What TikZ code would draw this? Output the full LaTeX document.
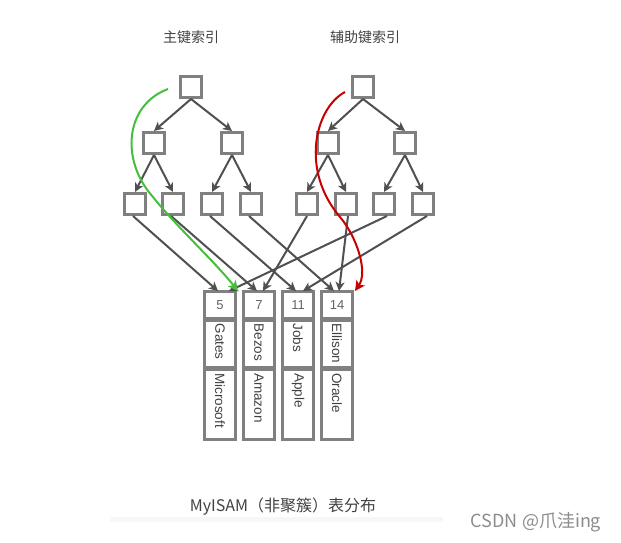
\documentclass[tikz,border=0pt]{standalone}
\usepackage{fontspec}
\setmainfont{Liberation Sans}
\newfontfamily\cjk{Noto Sans CJK SC}
\usetikzlibrary{arrows.meta,positioning}
\definecolor{boxgray}{RGB}{128,128,128}
\definecolor{arrgray}{RGB}{80,80,80}
\definecolor{txtgray}{RGB}{65,65,65}
\definecolor{numgray}{RGB}{100,100,100}
\definecolor{greenpath}{RGB}{70,190,60}
\definecolor{redpath}{RGB}{200,0,0}
\tikzset{
  treebox/.style={draw=boxgray, line width=3pt, fill=white, minimum width=21pt, minimum height=21pt, inner sep=0pt},
  cellbox/.style={draw=boxgray, line width=2.5pt, fill=white, minimum width=31pt, inner sep=0pt},
  numtext/.style={font=\fontsize{13}{14}\selectfont, text=numgray},
  rottext/.style={font=\fontsize{13.5}{14}\selectfont, text=txtgray, rotate=-90, anchor=west, inner sep=0pt},
  tarrow/.style={draw=arrgray, line width=2pt, -{Stealth[length=9pt,width=9pt,inset=2.5pt]}},
  title/.style={font=\cjk\fontsize{14}{15}\selectfont, text=txtgray},
}
\begin{document}
\begin{tikzpicture}[x=1pt,y=-1pt]
\path[use as bounding box] (0,0) rectangle (621,543);
% faint band
\fill[black!3] (110,517) rectangle (443,522);
% titles
\node[title] (t1) at (191,37) {主键索引};
\node[title] (t2) at (365,37) {辅助键索引};
% left tree
\node[treebox] (a) at (191,87) {};
\node[treebox] (al) at (154,143) {};
\node[treebox] (ar) at (232,143) {};
\node[treebox] (a1) at (135,204) {};
\node[treebox] (a2) at (173,204) {};
\node[treebox] (a3) at (212,204) {};
\node[treebox] (a4) at (251,204) {};
% right tree
\node[treebox] (b) at (363,87) {};
\node[treebox] (bl) at (328,143) {};
\node[treebox] (br) at (405,143) {};
\node[treebox] (b1) at (307,204) {};
\node[treebox] (b2) at (346,204) {};
\node[treebox] (b3) at (384,204) {};
\node[treebox] (b4) at (423,204) {};
% table columns
\foreach \i/\x/\n/\p/\c in {1/220/5/Gates/Microsoft,2/259/7/Bezos/Amazon,3/298/11/Jobs/Apple,4/337/14/Ellison/Oracle}{
  \node[cellbox, minimum height=27pt, anchor=north] (c\i) at (\x,290) {};
  \node[numtext] (n\i) at (c\i.center) {\n};
  \node[cellbox, minimum height=46pt, anchor=north] (p\i) at (c\i.south) {};
  \node[cellbox, minimum height=70pt, anchor=north] (q\i) at (p\i.south) {};
  \node[rottext] (pt\i) at ([yshift=-4pt]p\i.north) {\p};
  \node[rottext] (qt\i) at ([yshift=-5pt]q\i.north) {\c};
}
% tree arrows
\draw[tarrow] (a.south) -- (al.north);
\draw[tarrow] (a.south) -- (ar.north);
\draw[tarrow] (al.south) -- (a1.north);
\draw[tarrow] (al.south) -- (a2.north);
\draw[tarrow] (ar.south) -- (a3.north);
\draw[tarrow] (ar.south) -- (a4.north);
\draw[tarrow] (b.south) -- (bl.north);
\draw[tarrow] (b.south) -- (br.north);
\draw[tarrow] (bl.south) -- (b1.north);
\draw[tarrow] (bl.south) -- (b2.north);
\draw[tarrow] (br.south) -- (b3.north);
\draw[tarrow] (br.south) -- (b4.north);
% leaf to table arrows
\draw[tarrow] ([xshift=-2pt]a1.south) -- ([xshift=-2pt,yshift=-1pt]c1.north);
\draw[tarrow] ([xshift=-2pt]a2.south) -- ([xshift=-2pt,yshift=-1pt]c2.north);
\draw[tarrow] ([xshift=-2pt]a3.south) -- ([xshift=-2pt,yshift=-1pt]c3.north);
\draw[tarrow] ([xshift=-2pt]a4.south) -- ([xshift=-3pt,yshift=-1pt]c4.north);
\draw[tarrow] (b1.south) -- ([xshift=4pt,yshift=-1pt]c2.north);
\draw[tarrow] ([xshift=2pt]b2.south) -- ([xshift=2pt,yshift=-1pt]c4.north);
\draw[tarrow] ([xshift=3pt]b3.south) -- ([xshift=9pt,yshift=-1pt]c1.north);
\draw[tarrow] ([xshift=4pt]b4.south) -- ([xshift=5pt,yshift=-1pt]c3.north);
% search paths
\coordinate (gs) at (168,89);
\coordinate (rs) at (345,92);
\draw[greenpath, line width=2pt, -{Stealth[length=10pt,width=10pt,inset=2.5pt]}]
  (gs) .. controls (125,105) and (120,160) .. (153,197)
       .. controls (175,225) and (215,262) .. ([xshift=-21pt,yshift=-1pt]c2.north);
\draw[redpath, line width=2pt, -{Stealth[length=10pt,width=10pt,inset=2.5pt]}]
  (rs) .. controls (315,108) and (300,170) .. (340,217)
       .. controls (357,237) and (368,272) .. ([xshift=18pt,yshift=-1pt]c4.north);
% caption
\node[font=\cjk\fontsize{16}{17}\selectfont, text=txtgray] (cap) at (283,507) {MyISAM（非聚簇）表分布};
\node[font=\cjk\fontsize{18}{19}\selectfont, text=black!45] (wm) at (536,522) {CSDN @爪洼ing};
\end{tikzpicture}
\end{document}
